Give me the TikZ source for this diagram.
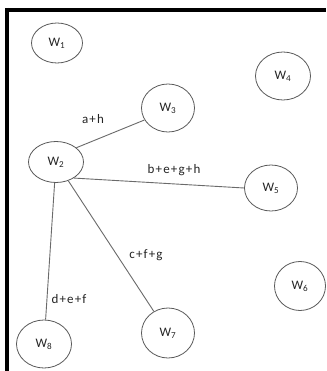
\documentclass[tikz,border=0pt]{standalone}
\usepackage{fontspec}
\setmainfont{Carlito}
\usetikzlibrary{shapes.geometric}
\definecolor{edgegray}{HTML}{6A6A6A}
\definecolor{nodegray}{HTML}{5A5A5A}
\definecolor{txt}{HTML}{252525}
\tikzset{
  wnode/.style={ellipse, draw=nodegray, line width=0.8pt, minimum width=#1, inner sep=0pt, text=txt, font=\fontsize{13}{15}\selectfont},
  link/.style={draw=edgegray, line width=0.9pt},
  lbl/.style={anchor=base, inner sep=0pt, text=txt, font=\fontsize{13}{15}\selectfont\addfontfeature{LetterSpace=9}},
  frame/.style={line width=4pt, black}
}
\begin{document}
\begin{tikzpicture}[x=1pt,y=-1pt]
\useasboundingbox (0,0) rectangle (326,371);
\fill[white] (0,0) rectangle (326,371);
\coordinate (ftl) at (5,10);
\coordinate (ftr) at (326,10);
\coordinate (fl) at (7,8);
\coordinate (fb) at (7,371);
\draw[frame] (ftl) -- (ftr);
\draw[frame] (fl) -- (fb);

\node[wnode=51pt, minimum height=40pt] (W1) at (57,43) {W\textsubscript{1}};
\node[wnode=55pt, minimum height=41pt] (W2) at (56,162) {W\textsubscript{2}};
\node[wnode=53pt, minimum height=48pt] (W3) at (168,108) {W\textsubscript{3}};
\node[wnode=55pt, minimum height=48pt] (W4) at (283,76) {W\textsubscript{4}};
\node[wnode=53pt, minimum height=46pt] (W5) at (271,188) {W\textsubscript{5}};
\node[wnode=51pt, minimum height=49pt] (W6) at (300,286) {W\textsubscript{6}};
\node[wnode=53pt, minimum height=50pt] (W7) at (168,333) {W\textsubscript{7}};
\node[wnode=55pt, minimum height=48pt] (W8) at (44,344) {W\textsubscript{8}};

\draw[link] (W2.35) -- (W3.207);
\draw[link] (W2.-42) -- (W5.180);
\draw[link] (W2) -- (W7);
\draw[link] (W2) -- (W8);

\node[lbl] (l1) at (93,124) {a+h};
\node[lbl] (l2) at (174,174) {b+e+g+h};
\node[lbl] (l3) at (146,258) {c+f+g};
\node[lbl] (l4) at (69,303) {d+e+f};
\end{tikzpicture}
\end{document}
